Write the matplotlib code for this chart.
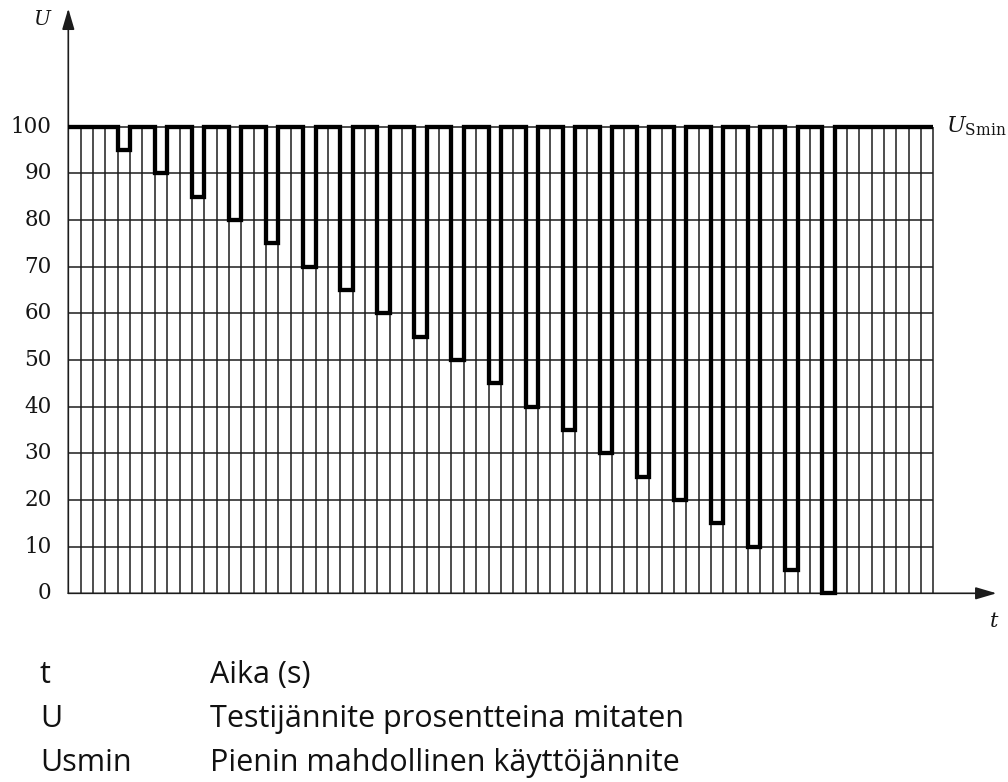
import matplotlib
matplotlib.use("Agg")
import matplotlib.pyplot as plt
from matplotlib.patches import ArrowStyle

# ---- data ----
grid_t = list(range(0, 71))                 # vertical grid lines (time units)
u_ticks = [0, 10, 20, 30, 40, 50, 60, 70, 80, 90, 100]
u_tick_labels = ["0", "10", "20", "30", "40", "50", "60", "70", "80", "90", "100"]
dip_starts = [4, 7, 10, 13, 16, 19, 22, 25, 28, 31, 34, 37, 40, 43, 46, 49, 52, 55, 58, 61]
dip_levels = [95, 90, 85, 80, 75, 70, 65, 60, 55, 50, 45, 40, 35, 30, 25, 20, 15, 10, 5, 0]
dip_width = 1
u_nominal = 100
t_end = 70
t_axis_tip = 75.1
u_axis_tip = 125.3
legend_symbols = ["t", "U", "Usmin"]
legend_texts = ["Aika (s)", "Testijännite prosentteina mitaten",
                "Pienin mahdollinen käyttöjännite"]

W, H = 1008, 782
fig = plt.figure(figsize=(W / 100, H / 100), dpi=100)
ax = fig.add_axes([0, 0, 1, 1])
ax.set_xlim(-68.3 / 12.36, (W - 68.3) / 12.36)
ax.set_ylim((593.3 - H) / 4.667, 593.3 / 4.667)
ax.axis("off")

gcol = "#1c1c1c"
# grid
ax.vlines(grid_t[1:], 0, 100, color=gcol, lw=1.1, zorder=1)
ax.hlines(u_ticks[1:], 0, t_end, color=gcol, lw=1.1, zorder=1)

# axes with arrows
astyle = ArrowStyle("-|>", head_length=0.85, head_width=0.25)
ax.annotate("", xy=(t_axis_tip, 0), xytext=(0, 0),
            arrowprops=dict(arrowstyle=astyle, mutation_scale=15, lw=1.2,
                            color=gcol, shrinkA=0, shrinkB=0), zorder=2)
ax.annotate("", xy=(0, u_axis_tip), xytext=(0, 0),
            arrowprops=dict(arrowstyle=astyle, mutation_scale=15, lw=1.2,
                            color=gcol, shrinkA=0, shrinkB=0), zorder=2)

# signal
xs, ys = [0], [u_nominal]
for s, lv in zip(dip_starts, dip_levels):
    xs += [s, s, s + dip_width, s + dip_width]
    ys += [u_nominal, lv, lv, u_nominal]
xs.append(t_end)
ys.append(u_nominal)
ax.plot(xs, ys, color="black", lw=3.1, solid_joinstyle="miter",
        solid_capstyle="butt", zorder=3)

# tick labels
for v, lab in zip(u_ticks, u_tick_labels):
    ax.text(-1.34, v, lab, ha="right", va="center", fontsize=15.5,
            family="DejaVu Serif", color="#151515")

# axis labels
ax.text(-1.45, u_axis_tip - 0.4, "U", ha="right", va="top", fontsize=14.5,
        family="DejaVu Serif", style="italic", color="#151515")
ax.text(t_axis_tip - 0.2, -4.0, "t", ha="center", va="top", fontsize=15,
        family="DejaVu Serif", style="italic", color="#151515")
plt.rcParams["mathtext.fontset"] = "dejavuserif"
ax.text(t_end + 1.0, u_nominal, r"$U_{\mathrm{Smin}}$", ha="left", va="center",
        fontsize=16, color="#151515")

# legend text below
rows_y = [683, 727, 771]
for sym, txt, yb in zip(legend_symbols, legend_texts, rows_y):
    fig.text(40 / W, 1 - yb / H, sym, ha="left", va="baseline", fontsize=22,
             family="Open Sans", color="#111111")
    fig.text(210 / W, 1 - yb / H, txt, ha="left", va="baseline", fontsize=22,
             family="Open Sans", color="#111111")

fig.savefig("out.png", dpi=100)
